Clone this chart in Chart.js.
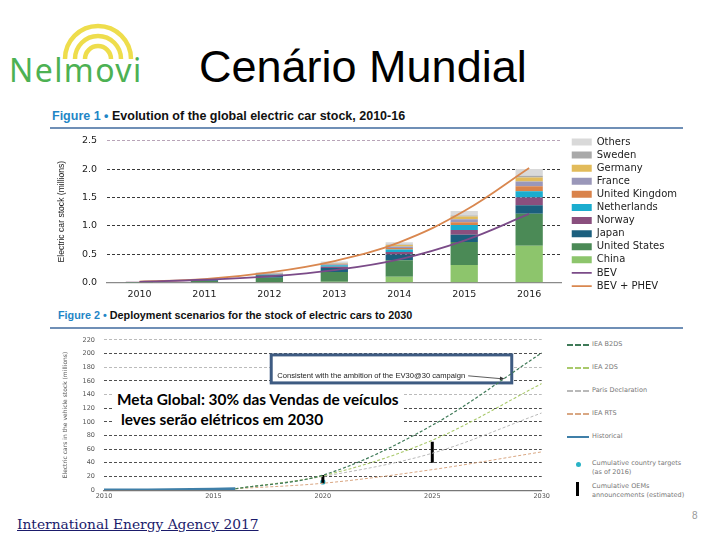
<!DOCTYPE html>
<html>
<head>
<meta charset="utf-8">
<script src="https://cdn.jsdelivr.net/npm/chart.js"></script>
<style>
  body { margin:0; width:720px; height:540px; background:#fff; position:relative; overflow:hidden; font-family:"Liberation Sans", Arial, sans-serif; }
  .abs { position:absolute; }
  .fighead { font-weight:bold; color:#111; white-space:nowrap; }
  .fighead b { color:#1f86c6; }
  .rule { height:2px; background:#6f8fb6; }
  .lg2 { font-family:"DejaVu Sans", sans-serif; font-size:6.5px; color:#777; line-height:9px; white-space:nowrap; }
</style>
</head>
<body>

<!-- logo -->
<svg class="abs" style="left:60px;top:17px" width="76" height="44">
  <g fill="none" stroke="#eedd4c" stroke-width="4.5">
    <path d="M5 42 A33 33 0 0 1 71 42"/>
    <path d="M15 42 A23 23 0 0 1 61 42"/>
    <path d="M25 42 A13 13 0 0 1 51 42"/>
  </g>
</svg>
<div class="abs" style="left:9px;top:48px;font-family:'Noto Sans';font-size:32px;color:#4db153;letter-spacing:1.4px">Nelmovi</div>

<div class="abs" style="left:199px;top:41px;font-size:45px;color:#000">Cenário Mundial</div>

<div class="abs fighead" style="left:52px;top:109px;font-size:12.5px"><b>Figure 1 •</b> Evolution of the global electric car stock, 2010-16</div>
<div class="abs rule" style="left:50px;top:127px;width:633px"></div>
<canvas id="c1" class="abs" style="left:50px;top:125px" width="650" height="181"></canvas>

<div class="abs fighead" style="left:58px;top:309px;font-size:10.8px"><b>Figure 2 •</b> Deployment scenarios for the stock of electric cars to 2030</div>
<div class="abs rule" style="left:50px;top:327px;width:633px"></div>
<canvas id="c2" class="abs" style="left:50px;top:327px" width="502" height="176"></canvas>

<div id="legend2" class="abs" style="left:565px;top:340px;width:130px;height:165px"></div>

<div class="abs" style="left:112px;top:390px;width:290px;height:41px;background:#fff;font-family:Lato;font-weight:bold;font-size:15.4px;line-height:19.5px;color:#000;white-space:nowrap">
  <div style="padding-left:5px">Meta Global: 30% das Vendas de veículos</div>
  <div style="padding-left:9px">leves serão elétricos em 2030</div>
</div>

<div class="abs" style="left:17px;top:516px;font-family:'DejaVu Serif';font-size:13.8px;color:#1b1b6b;text-decoration:underline">International Energy Agency 2017</div>
<div class="abs" style="left:692px;top:510px;font-size:10px;color:#999">8</div>

<script>
// ---- Figure 1: electric car stock (millions) ----
var years = ['2010', '2011', '2012', '2013', '2014', '2015', '2016'];
var china       = [0.002, 0.005, 0.010, 0.015, 0.105, 0.312, 0.649];
var usa         = [0.004, 0.022, 0.076, 0.172, 0.290, 0.404, 0.564];
var japan       = [0.004, 0.015, 0.044, 0.070, 0.102, 0.126, 0.151];
var norway      = [0.003, 0.006, 0.010, 0.021, 0.044, 0.084, 0.134];
var netherlands = [0.000, 0.001, 0.007, 0.028, 0.044, 0.088, 0.112];
var uk          = [0.001, 0.002, 0.005, 0.009, 0.024, 0.049, 0.086];
var france      = [0.000, 0.003, 0.010, 0.016, 0.027, 0.054, 0.084];
var germany     = [0.001, 0.003, 0.006, 0.012, 0.026, 0.049, 0.073];
var sweden      = [0.000, 0.000, 0.001, 0.004, 0.008, 0.016, 0.029];
var others      = [0.002, 0.004, 0.012, 0.025, 0.040, 0.080, 0.120];
var bev         = [0.014, 0.050, 0.110, 0.220, 0.410, 0.740, 1.210];
var bevPhev     = [0.017, 0.061, 0.180, 0.380, 0.710, 1.260, 2.020];

var countryNames = ['China', 'United States', 'Japan', 'Norway', 'Netherlands', 'United Kingdom', 'France', 'Germany', 'Sweden', 'Others'];
var countryData = [china, usa, japan, norway, netherlands, uk, france, germany, sweden, others];
var countryColors = ['#8dc56c', '#4b8a56', '#1b5f7e', '#8a4f7e', '#1badcf', '#d9834b', '#9a97b9', '#e2bb5a', '#a9a9a9', '#d9d9d9'];

// ---- Figure 2: deployment scenarios (millions) ----
var histYears  = [2010, 2011, 2012, 2013, 2014, 2015, 2016];
var historical = [0.02, 0.06, 0.18, 0.38, 0.71, 1.26, 2.0];
var scenYears  = [2016, 2020, 2025, 2030];
var ieaB2ds    = [2, 22, 95, 201];
var iea2ds     = [2, 21, 73, 156];
var paris      = [2, 20, 54, 113];
var ieaRts     = [2, 10, 30, 56];
var targetYears = [2020];
var targets     = [12];
var oemYears = [2020, 2025];
var oemLow   = [10, 40];
var oemHigh  = [22, 71];

var datasets1 = countryNames.map(function (name, i) {
    return { label: name, data: countryData[i], backgroundColor: countryColors[i], borderWidth: 0,
             stack: 'bars', order: 2, barPercentage: 0.84, categoryPercentage: 0.5, pointStyle: 'rect' };
});
datasets1.push({ type: 'line', label: 'BEV', data: bev, borderColor: '#7b4b88', backgroundColor: '#7b4b88',
                 borderWidth: 1.8, pointRadius: 0, tension: 0.4, stack: 'bev', order: 1, pointStyle: 'line' });
datasets1.push({ type: 'line', label: 'BEV + PHEV', data: bevPhev, borderColor: '#d9874f', backgroundColor: '#d9874f',
                 borderWidth: 1.8, pointRadius: 0, tension: 0.4, stack: 'tot', order: 1, pointStyle: 'line' });

function legendRank(item) {
    return item.datasetIndex < countryNames.length ? countryNames.length - 1 - item.datasetIndex : item.datasetIndex;
}

// nudge the legend a little away from the plot
var legendNudge = {
    id: 'legendNudge',
    afterLayout: function (chart) {
        var lg = chart.legend;
        lg.left += 7; lg.right += 7;
        lg.top -= 2; lg.bottom -= 2;
    }
};

new Chart(document.getElementById('c1'), {
    type: 'bar',
    data: { labels: years, datasets: datasets1 },
    options: {
        responsive: false,
        animation: false,
        layout: { padding: { top: 1, left: 4, right: 20 } },
        plugins: {
            tooltip: { enabled: false },
            legend: {
                position: 'right',
                labels: {
                    usePointStyle: true, pointStyleWidth: 20, boxHeight: 7, padding: 3.1,
                    color: '#222', font: { family: 'DejaVu Sans', size: 10 },
                    sort: function (a, b) { return legendRank(a) - legendRank(b); }
                }
            }
        },
        scales: {
            x: {
                stacked: true,
                grid: { display: false, drawTicks: false },
                border: { color: '#8a8a8a', width: 1.2 },
                ticks: { color: '#222', font: { family: 'DejaVu Sans', size: 9.5 }, padding: 6 }
            },
            y: {
                stacked: true, min: 0, max: 2.5,
                afterFit: function (s) { s.width = 53; },
                ticks: { stepSize: 0.5, color: '#222', font: { family: 'DejaVu Sans', size: 9.5 }, padding: 10,
                         callback: function (v) { return v.toFixed(1); } },
                grid: { drawTicks: false, lineWidth: 0.9,
                        color: function (c) { return c.tick.value === 0 ? 'rgba(0,0,0,0)' : (c.tick.value === 2.5 ? '#b09ab0' : '#222'); } },
                border: { display: false, dash: [3, 2] },
                title: { display: true, text: 'Electric car stock (millions)', color: '#222',
                         font: { family: 'Liberation Sans', size: 8.6 }, padding: 2 }
            }
        }
    },
    plugins: [legendNudge]
});

function pts(xs, ys) { return xs.map(function (x, i) { return { x: x, y: ys[i] }; }); }
var oemPts = [];
oemYears.forEach(function (yr, i) {
    oemPts.push({ x: yr, y: oemLow[i] }, { x: yr, y: oemHigh[i] }, { x: yr + 0.01, y: null });
});

// text box "EV30@30"
var boxYears = [2017.64, 2028.63], boxVals = [198, 157], arrowTo = [2028.3, 163];
var ev30Plugin = {
    id: 'ev30',
    beforeDatasetsDraw: function (chart) {
        var ctx = chart.ctx, x = chart.scales.x, y = chart.scales.y;
        var l = x.getPixelForValue(boxYears[0]), r = x.getPixelForValue(boxYears[1]);
        var t = y.getPixelForValue(boxVals[0]), b = y.getPixelForValue(boxVals[1]);
        ctx.save();
        ctx.fillStyle = '#fff';
        ctx.fillRect(l, t, r - l, b - t);
        ctx.strokeStyle = '#3e5b82';
        ctx.lineWidth = 3;
        ctx.strokeRect(l, t, r - l, b - t);
        ctx.restore();
    },
    afterDatasetsDraw: function (chart) {
        var ctx = chart.ctx, x = chart.scales.x, y = chart.scales.y;
        var l = x.getPixelForValue(boxYears[0]);
        var ax = x.getPixelForValue(arrowTo[0]), ay = y.getPixelForValue(arrowTo[1]);
        var ty = ay - 3;
        ctx.save();
        ctx.font = '7.6px "Liberation Sans"';
        ctx.fillStyle = '#222';
        ctx.textBaseline = 'middle';
        var txt = 'Consistent with the ambition of the EV30@30 campaign';
        ctx.fillText(txt, l + 6, ty);
        var sx = l + 6 + ctx.measureText(txt).width + 3;
        ctx.strokeStyle = '#333';
        ctx.lineWidth = 0.8;
        ctx.beginPath(); ctx.moveTo(sx, ty); ctx.lineTo(ax - 2, ay); ctx.stroke();
        var ang = Math.atan2(ay - ty, ax - 2 - sx);
        ctx.fillStyle = '#333';
        ctx.beginPath();
        ctx.moveTo(ax, ay);
        ctx.lineTo(ax - 5 * Math.cos(ang - 0.4), ay - 5 * Math.sin(ang - 0.4));
        ctx.lineTo(ax - 5 * Math.cos(ang + 0.4), ay - 5 * Math.sin(ang + 0.4));
        ctx.fill();
        ctx.restore();
    }
};

var scen = [
    { label: 'IEA B2DS', data: ieaB2ds, color: '#3f7a58', width: 1.2 },
    { label: 'IEA 2DS', data: iea2ds, color: '#a9c96b', width: 1.1 },
    { label: 'Paris Declaration', data: paris, color: '#b9b9b9', width: 1.0 },
    { label: 'IEA RTS', data: ieaRts, color: '#d9a783', width: 1.0 }
];
var datasets2 = scen.map(function (s) {
    return { label: s.label, data: pts(scenYears, s.data), borderColor: s.color, borderWidth: s.width,
             borderDash: [3, 2], pointRadius: 0, cubicInterpolationMode: 'monotone' };
});
datasets2.push({ label: 'Historical', data: pts(histYears, historical), borderColor: '#3f7fa8', borderWidth: 3, pointRadius: 0 });
datasets2.push({ label: 'Cumulative OEMs announcements (estimated)', data: oemPts, borderColor: '#000', borderWidth: 3,
                 pointRadius: 0, spanGaps: false });
datasets2.push({ label: 'Cumulative country targets (as of 2016)', data: pts(targetYears, targets), showLine: false,
                 pointRadius: 2.6, pointBackgroundColor: '#29b3c6', pointBorderWidth: 0 });

new Chart(document.getElementById('c2'), {
    type: 'line',
    data: { datasets: datasets2 },
    options: {
        responsive: false,
        animation: false,
        layout: { padding: { top: 0, left: 10, right: 2 } },
        plugins: { legend: { display: false }, tooltip: { enabled: false } },
        scales: {
            x: {
                type: 'linear', min: 2010, max: 2030,
                grid: { display: false, drawTicks: false },
                border: { color: '#777', width: 1.2 },
                ticks: { stepSize: 5, color: '#555', font: { family: 'DejaVu Sans', size: 6.5 }, padding: 2,
                         callback: function (v) { return String(v); } }
            },
            y: {
                min: 0, max: 220,
                afterFit: function (s) { s.width = 44; },
                ticks: { stepSize: 20, color: '#555', font: { family: 'DejaVu Sans', size: 6.5 }, padding: 9 },
                grid: { drawTicks: false, lineWidth: 0.8,
                        color: function (c) {
                            var v = c.tick.value;
                            if (v === 0) return 'rgba(0,0,0,0)';
                            return (v === 220 || v === 180 || v === 140) ? '#aaa' : '#222';
                        } },
                border: { display: false, dash: [3, 2] },
                title: { display: true, text: 'Electric cars in the vehicle stock (millions)', color: '#555',
                         font: { family: 'DejaVu Sans', size: 6 }, padding: 2 }
            }
        }
    },
    plugins: [ev30Plugin]
});

// legend for figure 2
var lg = document.getElementById('legend2');
var items = scen.map(function (s) { return { text: s.label, color: s.color, dash: true, w: s.width + 1 }; });
items.push({ text: 'Historical', color: '#3f7fa8', dash: false, w: 2.5 });
var html = '';
items.forEach(function (it, i) {
    var top = 4 + i * 23;
    html += '<div class="abs" style="left:2px;top:' + top + 'px;width:22px;height:0;border-top:' + it.w + 'px ' +
            (it.dash ? 'dashed ' : 'solid ') + it.color + '"></div>' +
            '<div class="abs lg2" style="left:27px;top:' + (top - 4) + 'px">' + it.text + '</div>';
});
html += '<div class="abs" style="left:11px;top:122px;width:5px;height:5px;border-radius:50%;background:#29b3c6"></div>' +
        '<div class="abs lg2" style="left:27px;top:119px">Cumulative country targets<br>(as of 2016)</div>' +
        '<div class="abs" style="left:11px;top:142px;width:3px;height:14px;background:#000"></div>' +
        '<div class="abs lg2" style="left:27px;top:142px">Cumulative OEMs<br>announcements (estimated)</div>';
lg.innerHTML = html;
</script>
</body>
</html>
